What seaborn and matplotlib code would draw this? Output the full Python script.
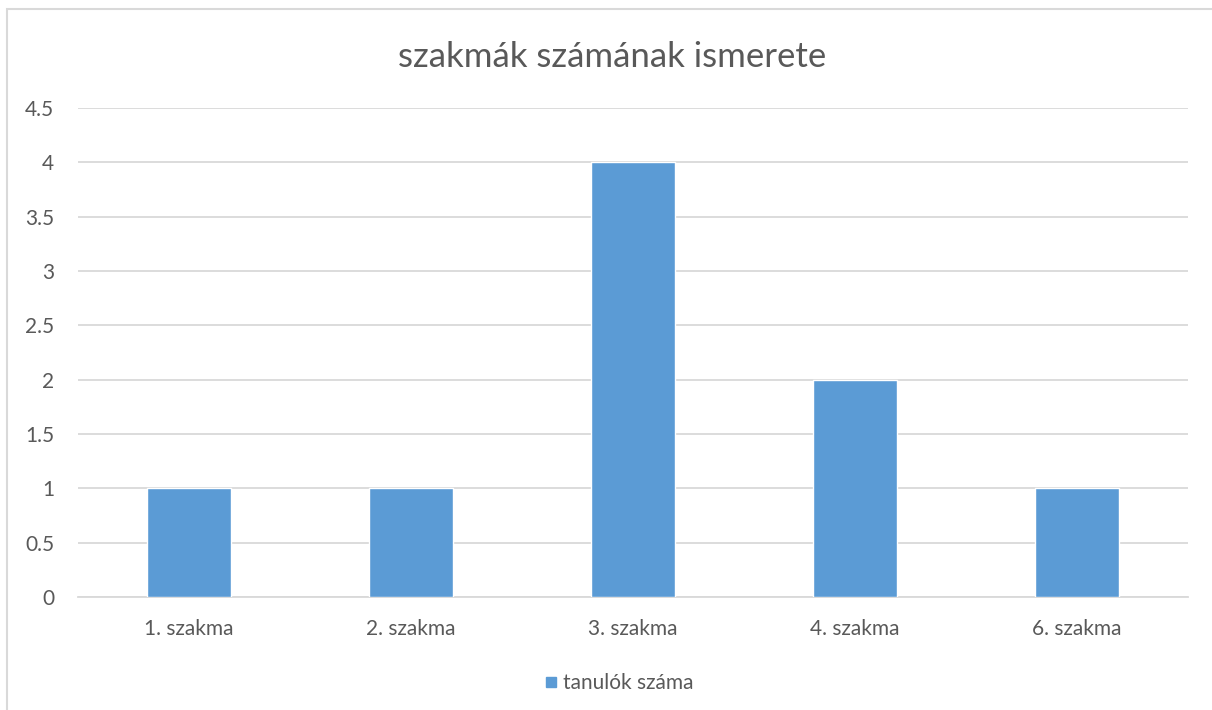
import pandas as pd
import matplotlib.pyplot as plt
import matplotlib.patches as mpatches
from matplotlib.lines import Line2D
import seaborn as sns

# data
categories = ["1. szakma", "2. szakma", "3. szakma", "4. szakma", "6. szakma"]
values = [1, 1, 4, 2, 1]
series_name = "tanulók száma"
y_ticks = [0, 0.5, 1, 1.5, 2, 2.5, 3, 3.5, 4, 4.5]
y_tick_labels = ["0", "0.5", "1", "1.5", "2", "2.5", "3", "3.5", "4", "4.5"]

df = pd.DataFrame({"szakma": categories, "tanulok": values})

sns.set_style("white")
plt.rcParams["font.family"] = ["Lato", "DejaVu Sans"]

text_col = "#595959"
grid_col = "#d9d9d9"
bar_col = "#5b9bd5"

fig = plt.figure(figsize=(12.12, 7.10), dpi=100)
ax = fig.add_axes([78 / 1212, (710 - 597) / 710, (1188 - 78) / 1212, (597 - 108) / 710])

sns.barplot(data=df, x="szakma", y="tanulok", color=bar_col, width=0.38,
            saturation=1, ax=ax, zorder=3)

ax.set_ylim(0, 4.5)
ax.set_xlim(-0.5, len(categories) - 0.5)
ax.set_yticks(y_ticks)
ax.set_yticklabels(y_tick_labels)
ax.yaxis.grid(True, color=grid_col, linewidth=1.3, zorder=0)
ax.set_axisbelow(True)
ax.set_xlabel("")
ax.set_ylabel("")

for s in ["top", "right", "left"]:
    ax.spines[s].set_visible(False)
ax.spines["bottom"].set_color(grid_col)
ax.spines["bottom"].set_linewidth(1.3)

# tick marks between categories
ax.set_xticks(range(len(categories)))
ax.set_xticklabels(categories)
ax.set_xticks([i - 0.5 for i in range(len(categories) + 1)], minor=True)
ax.tick_params(axis="x", which="major", length=0, pad=16, labelsize=15, labelcolor=text_col)
ax.tick_params(axis="x", which="minor", length=6, width=1.3, color=grid_col)
ax.tick_params(axis="y", length=0, pad=17, labelsize=15, labelcolor=text_col)

fig.text(0.505, 1 - 57 / 710, "szakmák számának ismerete", ha="center", va="center",
         fontsize=25, color=text_col)

handle = Line2D([], [], marker="s", linestyle="", color=bar_col, markersize=6.5)
fig.legend([handle], [series_name], loc="center", bbox_to_anchor=(0.510, 1 - 683 / 710),
           frameon=False, fontsize=15, labelcolor=text_col, handletextpad=0.2,
           handlelength=0.8)

# outer chart border
fig.patches.append(mpatches.Rectangle((7 / 1212, -0.1), 1.2, 1 - 9 / 710 + 0.1,
                                      transform=fig.transFigure, fill=False,
                                      edgecolor=grid_col, linewidth=1.5))

plt.savefig("out.png", dpi=100)
